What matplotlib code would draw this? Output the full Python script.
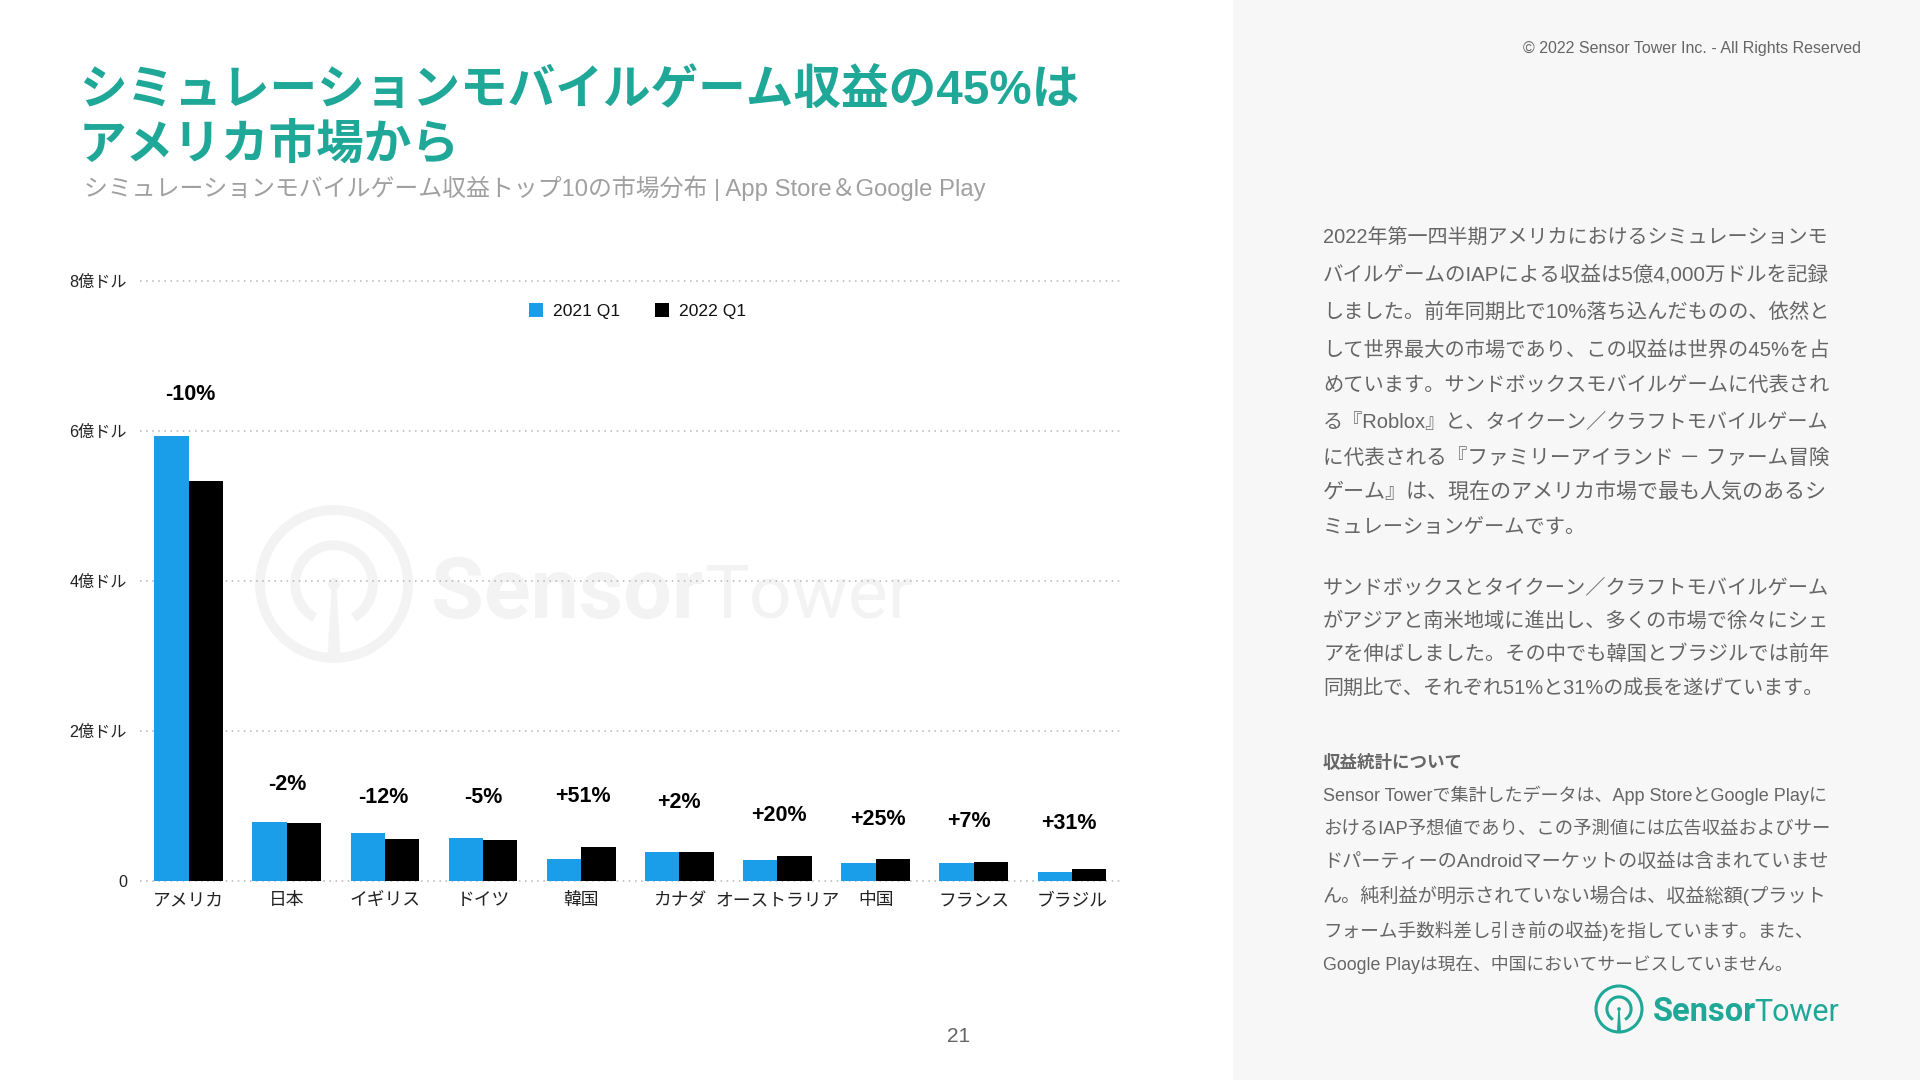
import numpy as np
import matplotlib
matplotlib.use('Agg')
import matplotlib.pyplot as plt
from matplotlib.patches import Arc, Circle, Polygon, Rectangle

plt.rcParams['font.family'] = ['Liberation Sans', 'Noto Sans CJK JP', 'DejaVu Sans']

countries = ['アメリカ', '日本', 'イギリス', 'ドイツ', '韓国', 'カナダ', 'オーストラリア', '中国', 'フランス', 'ブラジル']
rev_2021 = [5.93, 0.785, 0.64, 0.57, 0.29, 0.39, 0.28, 0.24, 0.24, 0.125]
rev_2022 = [5.33, 0.775, 0.56, 0.545, 0.45, 0.39, 0.335, 0.295, 0.255, 0.155]
changes = ['-10%', '-2%', '-12%', '-5%', '+51%', '+2%', '+20%', '+25%', '+7%', '+31%']
y_ticks = [0, 2, 4, 6, 8]
y_labels = ['0', '2億ドル', '4億ドル', '6億ドル', '8億ドル']
series_names = ['2021 Q1', '2022 Q1']

# where the change labels float above the bars, in axis units
change_y = [6.48, 1.29, 1.11, 1.11, 1.12, 1.05, 0.87, 0.82, 0.79, 0.76]
change_dx = [0.02, 0.01, -0.02, 0.0, 0.02, 0.0, 0.01, 0.02, -0.05, -0.03]

para1 = ['2022年第一四半期アメリカにおけるシミュレーションモ',
         'バイルゲームのIAPによる収益は5億4,000万ドルを記録',
         'しました。前年同期比で10%落ち込んだものの、依然と',
         'して世界最大の市場であり、この収益は世界の45%を占',
         'めています。サンドボックスモバイルゲームに代表され',
         'る『Roblox』と、タイクーン／クラフトモバイルゲーム',
         'に代表される『ファミリーアイランド － ファーム冒険',
         'ゲーム』は、現在のアメリカ市場で最も人気のあるシ',
         'ミュレーションゲームです。']
para2 = ['サンドボックスとタイクーン／クラフトモバイルゲーム',
         'がアジアと南米地域に進出し、多くの市場で徐々にシェ',
         'アを伸ばしました。その中でも韓国とブラジルでは前年',
         '同期比で、それぞれ51%と31%の成長を遂げています。']
note = ['Sensor Towerで集計したデータは、App StoreとGoogle Playに',
        'おけるIAP予想値であり、この予測値には広告収益およびサー',
        'ドパーティーのAndroidマーケットの収益は含まれていませ',
        'ん。純利益が明示されていない場合は、収益総額(プラット',
        'フォーム手数料差し引き前の収益)を指しています。また、',
        'Google Playは現在、中国においてサービスしていません。']

TEAL = '#1fa898'
BLUE = '#1b9eea'
GREY = '#666666'

fig = plt.figure(figsize=(19.2, 10.8), dpi=100)

# page layer in pixel coords, under the chart
bg = fig.add_axes([0, 0, 1, 1], zorder=0)
bg.set_xlim(0, 1920)
bg.set_ylim(1080, 0)
bg.axis('off')
bg.add_patch(Rectangle((1233, 0), 687, 1080, color='#f7f7f7', lw=0))


def draw_logo(cx, cy, r, color, size, tower_size, text_x, text_y, split):
    lw = r * 0.095
    bg.add_patch(Circle((cx, cy), r, fill=False, ec=color, lw=lw))
    bg.add_patch(Arc((cx, cy), r * 1.05, r * 1.05, theta1=120, theta2=60, ec=color, lw=lw))
    bg.add_patch(Polygon([(cx - r * .03, cy), (cx + r * .03, cy),
                          (cx + r * .09, cy + r), (cx - r * .09, cy + r)], color=color, lw=0))
    bg.add_patch(Circle((cx, cy), r * .08, color=color, lw=0))
    bg.text(text_x, text_y, 'Sensor', color=color, fontsize=size, fontweight='bold',
            family='Roboto', va='baseline')
    bg.text(split, text_y, 'Tower', color=color, fontsize=tower_size, family='Roboto', va='baseline')


draw_logo(334, 584, 74, '#f3f3f3', 62, 54, 431, 618, 704)
draw_logo(1619, 1009, 23, TEAL, 23.5, 22, 1653, 1021, 1754)

# chart
ax = fig.add_axes([139.5 / 1920, 1 - 881 / 1080, (1121 - 139.5) / 1920, (881 - 280.5) / 1080], zorder=1)
ax.patch.set_alpha(0)
x = np.arange(len(countries))
w = 0.35
b1 = ax.bar(x - w / 2, rev_2021, w, color=BLUE, zorder=3, label=series_names[0])
b2 = ax.bar(x + w / 2, rev_2022, w, color='black', zorder=3, label=series_names[1])
ax.set_xlim(-0.5, 9.5)
ax.set_ylim(0, 8)
ax.set_xticks(x)
ax.set_xticklabels(countries, fontsize=12.8, color='#222222')
ax.set_yticks(y_ticks)
ax.set_yticklabels(y_labels, fontsize=11.6, color='#222222')
ax.tick_params(axis='y', length=0, pad=9)
ax.tick_params(axis='x', length=0, pad=8)
ax.grid(axis='y', ls=(0, (1, 3)), color='#b5b5b5', lw=1.1, zorder=0)
for gl in ax.get_ygridlines():
    gl.set_clip_on(False)
for s in ax.spines.values():
    s.set_visible(False)
for i in range(len(countries)):
    ax.text(x[i] + change_dx[i], change_y[i], changes[i], ha='center', va='center',
            fontsize=15.5, fontweight='bold', color='black', zorder=4)
ax.legend(handles=[b1, b2], loc='center', bbox_to_anchor=(0.5075, 0.949), ncol=2, frameon=False,
          fontsize=12.6, handlelength=0.8, handleheight=0.8, columnspacing=2.0, handletextpad=0.55,
          labelcolor='#111111')

# heading
bg.text(79, 92, 'シミュレーションモバイルゲーム収益の45%は', color=TEAL, fontsize=34.3, fontweight='bold', va='center')
bg.text(79, 146, 'アメリカ市場から', color=TEAL, fontsize=34.3, fontweight='bold', va='center')
bg.text(84, 188, 'シミュレーションモバイルゲーム収益トップ10の市場分布 | App Store＆Google Play',
        color='#a0a0a0', fontsize=17.2, va='center')
bg.text(1861, 49, '© 2022 Sensor Tower Inc. - All Rights Reserved', color=GREY, fontsize=11.5, ha='right', va='center')
bg.text(959, 1036, '21', color=GREY, fontsize=15, ha='center', va='center')

renderer = fig.canvas.get_renderer()


def fit_line(px, py, s, width, size):
    # squeeze or grow a line so it fills the column, like the justified slide text
    t = bg.text(px, py, s, color=GREY, fontsize=size, va='center')
    if width is not None:
        t.set_fontsize(size * width / t.get_window_extent(renderer).width)
    return t


para1_y = [238, 275, 312, 350, 386, 422, 458, 493, 527]
para2_y = [588, 621, 654, 688]
note_y = [795, 829, 862, 896, 931, 965]
col_w = 505
for i, line in enumerate(para1):
    fit_line(1323, para1_y[i], line, None if i == 8 else col_w, 14.6)
for i, line in enumerate(para2):
    fit_line(1323, para2_y[i], line, col_w - (6 if i == 3 else 0), 14.6)
bg.text(1323, 763, '収益統計について', color=GREY, fontsize=12.6, fontweight='bold', va='center')
for i, line in enumerate(note):
    fit_line(1323, note_y[i], line, None if i == 5 else (490 if i == 4 else col_w), 12.8)

fig.savefig('out.png', dpi=100)
